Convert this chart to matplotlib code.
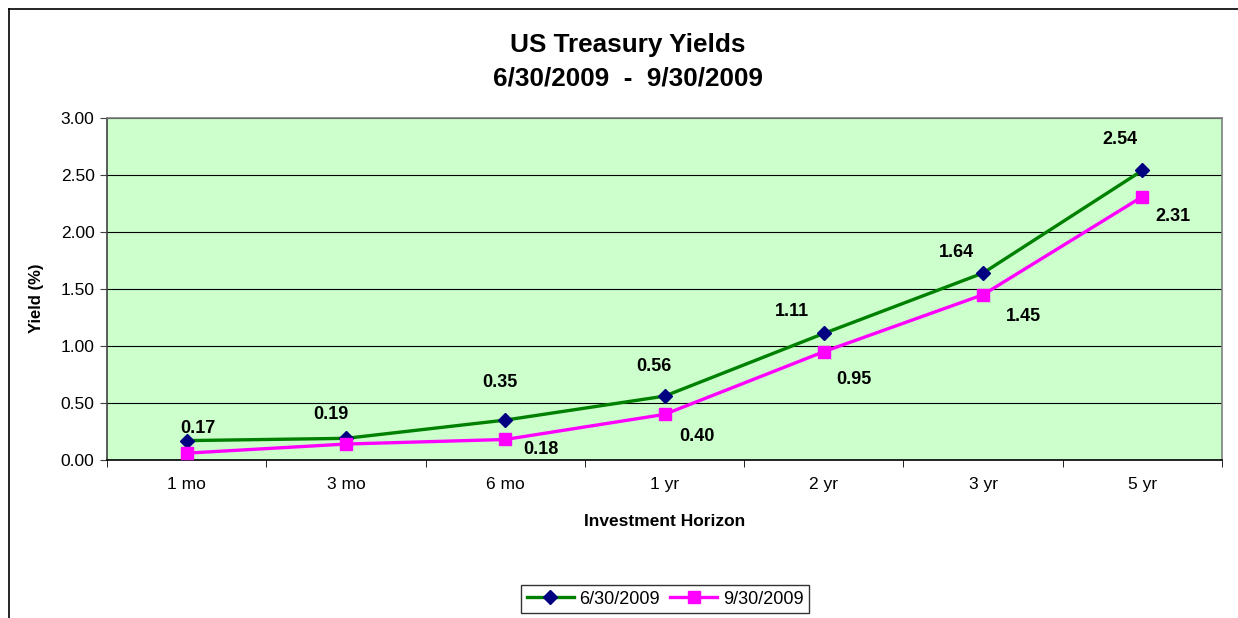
import matplotlib
matplotlib.use("Agg")
import matplotlib.pyplot as plt
from matplotlib.lines import Line2D
import numpy as np

plt.rcParams['font.family'] = ['Liberation Sans', 'DejaVu Sans']

categories = ["1 mo", "3 mo", "6 mo", "1 yr", "2 yr", "3 yr", "5 yr"]
yields_jun = [0.17, 0.19, 0.35, 0.56, 1.11, 1.64, 2.54]
yields_sep = [0.06, 0.14, 0.18, 0.40, 0.95, 1.45, 2.31]
labels_sep_shown = [False, False, True, True, True, True, True]
series_names = ["6/30/2009", "9/30/2009"]
yticks = [0.0, 0.5, 1.0, 1.5, 2.0, 2.5, 3.0]

# label offsets in points (dx, dy)
off_jun = [(8, 9), (-11, 17), (-4, 27), (-8, 21), (-23, 16), (-19, 15), (-16, 22)]
off_sep = [(0, 0), (0, 0), (26, -7), (23, -16), (22, -20), (29, -16), (22, -14)]

W, H = 1238, 618
fig = plt.figure(figsize=(W / 100, H / 100), dpi=100)
fig.patch.set_facecolor("white")

# outer chart frame (left and top lines)
fig.add_artist(Line2D([9 / W, 9 / W], [0, 1 - 9 / H], transform=fig.transFigure, color="black", lw=1.2))
fig.add_artist(Line2D([9 / W, 1], [1 - 9 / H, 1 - 9 / H], transform=fig.transFigure, color="black", lw=1.2))

ax = fig.add_axes([107 / W, 1 - 460 / H, (1222 - 107) / W, (460 - 118) / H])
ax.set_facecolor("#CCFFCC")

x = np.arange(len(categories))
ax.plot(x, yields_jun, color="#008000", lw=2.4, marker="D", markersize=7.5,
        markerfacecolor="#000080", markeredgecolor="#000080", label=series_names[0], zorder=3)
ax.plot(x, yields_sep, color="#FF00FF", lw=2.4, marker="s", markersize=8,
        markerfacecolor="#FF00FF", markeredgecolor="#FF00FF", label=series_names[1], zorder=3)

for i, v in enumerate(yields_jun):
    ax.annotate(f"{v:.2f}", (x[i], v), xytext=off_jun[i], textcoords="offset points",
                ha="center", va="center", fontsize=13, fontweight="bold", zorder=4)
for i, v in enumerate(yields_sep):
    if labels_sep_shown[i]:
        ax.annotate(f"{v:.2f}", (x[i], v), xytext=off_sep[i], textcoords="offset points",
                    ha="center", va="center", fontsize=13, fontweight="bold", zorder=4)

ax.set_xlim(-0.5, len(categories) - 0.5)
ax.set_ylim(0, 3)
ax.set_yticks(yticks)
ax.set_yticklabels([f"{t:.2f}" for t in yticks], fontsize=12.5)
ax.yaxis.grid(True, color="black", lw=0.8)
ax.set_axisbelow(True)

ax.set_xticks(x)
ax.set_xticklabels(categories, fontsize=12.5)
ax.set_xticks(np.arange(-0.5, len(categories)), minor=True)
ax.tick_params(axis="x", which="major", length=0, pad=12)
ax.tick_params(axis="x", which="minor", length=5, direction="out", color="black")
ax.tick_params(axis="y", length=5, direction="out", color="#404040", pad=4)

for s in ["top", "right"]:
    ax.spines[s].set_color("#808080")
    ax.spines[s].set_linewidth(1.2)
ax.spines["left"].set_color("#404040")
ax.spines["bottom"].set_color("black")
ax.spines["left"].set_linewidth(1.2)
ax.spines["bottom"].set_linewidth(1.2)

ax.set_ylabel("Yield (%)", fontsize=12, fontweight="bold")
ax.yaxis.set_label_coords((37 - 107) / (1222 - 107), (460 - 298) / (460 - 118))
ax.set_xlabel("Investment Horizon", fontsize=12.5, fontweight="bold")
ax.xaxis.set_label_coords((665 - 107) / (1222 - 107), -(521 - 460) / (460 - 118))
ax.xaxis.label.set_va("center")
ax.yaxis.label.set_va("center")

fig.text(628 / W, 1 - 45 / H, "US Treasury Yields", ha="center", va="center",
         fontsize=18.8, fontweight="bold")
fig.text(628 / W, 1 - 79 / H, "6/30/2009  -  9/30/2009", ha="center", va="center",
         fontsize=18.8, fontweight="bold")

leg = fig.legend(loc="center", bbox_to_anchor=(665 / W, 1 - 599 / H), ncol=2,
                 fontsize=13, frameon=True, fancybox=False, edgecolor="black",
                 handlelength=2.6, handletextpad=0.3, columnspacing=0.6,
                 borderpad=0.3, borderaxespad=0)
leg.get_frame().set_linewidth(1.0)

fig.savefig("out.png", dpi=100, facecolor="white")
